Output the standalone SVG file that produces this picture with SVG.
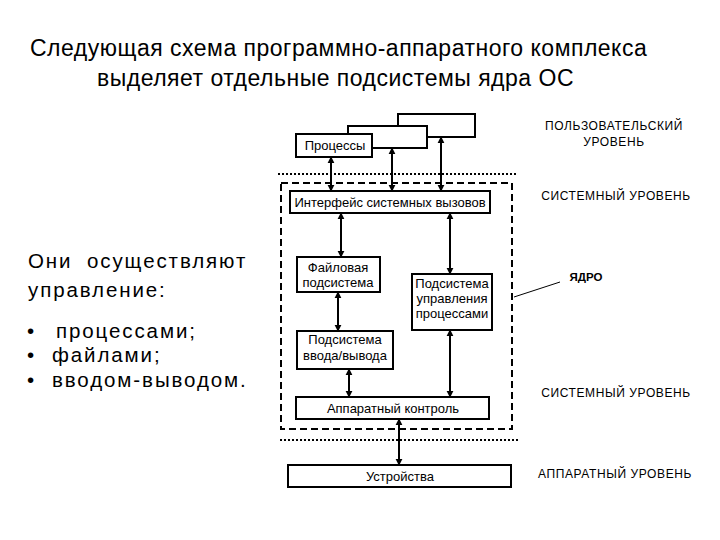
<svg xmlns="http://www.w3.org/2000/svg" width="720" height="540" viewBox="0 0 720 540">
<defs>
<marker id="ah" viewBox="0 0 10 10" refX="9" refY="5" markerWidth="3.5" markerHeight="4" orient="auto-start-reverse" markerUnits="strokeWidth">
<path d="M0,0 L10,5 L0,10 z" fill="#000"/>
</marker>
</defs>
<style>
text{font-family:"Liberation Sans",Arial,sans-serif;fill:#000}
.title{font-size:23px;letter-spacing:0.5px}
.side{font-size:20.5px;letter-spacing:1.9px}
.box{fill:#fff;stroke:#000;stroke-width:2}
.lbl{font-size:13px;text-anchor:middle}
.lvl{font-size:12px;letter-spacing:0.6px;text-anchor:middle}
.con line{stroke:#000;stroke-width:2;marker-start:url(#ah);marker-end:url(#ah)}
.dot{stroke:#000;stroke-width:2;stroke-dasharray:2,2;fill:none}
.dash{stroke:#000;stroke-width:2;stroke-dasharray:7,4;fill:none}
</style>
<rect width="720" height="540" fill="#fff"/>
<g id="title">
<text class="title" x="30" y="56">Следующая схема программно-аппаратного комплекса</text>
<text class="title" x="97" y="86">выделяет отдельные подсистемы ядра ОС</text>
</g>
<g id="side-text">
<text class="side" x="28" y="268">Они <tspan x="87">осуществляют</tspan></text>
<text class="side" x="28" y="297">управление:</text>
<text class="side" x="27" y="338">•<tspan x="56">процессами;</tspan></text>
<text class="side" x="27" y="362">•<tspan x="52">файлами;</tspan></text>
<text class="side" x="27" y="387">•<tspan x="52">вводом-выводом.</tspan></text>
</g>
<g id="layers">
<line class="dot" x1="278" y1="174" x2="518" y2="174"/>
<rect class="dash" x="281" y="183" width="231" height="246"/>
<line class="dot" x1="280" y1="440" x2="518" y2="440"/>
<line x1="514" y1="297" x2="560" y2="282" stroke="#000" stroke-width="1"/>
</g>
<g id="connectors" class="con">
<line x1="331" y1="157" x2="331" y2="191"/>
<line x1="392" y1="148" x2="392" y2="191"/>
<line x1="441" y1="137" x2="441" y2="191"/>
<line x1="341" y1="213" x2="341" y2="257"/>
<line x1="450" y1="213" x2="450" y2="274"/>
<line x1="338" y1="292" x2="338" y2="331"/>
<line x1="349" y1="369" x2="349" y2="397"/>
<line x1="450" y1="330" x2="450" y2="397"/>
<line x1="399" y1="419" x2="399" y2="465"/>
</g>
<g id="proc3"><rect class="box" x="398" y="114" width="77" height="23"/></g>
<g id="proc2"><rect class="box" x="348" y="126" width="79" height="22"/></g>
<g id="proc1"><rect class="box" x="296" y="134" width="76" height="23"/><text class="lbl" x="335" y="150">Процессы</text></g>
<g id="syscall"><rect class="box" x="290" y="191" width="200" height="22"/><text class="lbl" x="390" y="207">Интерфейс системных вызовов</text></g>
<g id="fs"><rect class="box" x="297" y="257" width="83" height="35"/><text class="lbl" x="338" y="272" font-size="12.5">Файловая</text><text class="lbl" x="338" y="287" font-size="12.5">подсистема</text></g>
<g id="procmgmt"><rect class="box" x="412" y="274" width="80" height="56"/><text class="lbl" x="452" y="288">Подсистема</text><text class="lbl" x="452" y="303">управления</text><text class="lbl" x="452" y="318">процессами</text></g>
<g id="io"><rect class="box" x="297" y="331" width="96" height="38"/><text class="lbl" x="345" y="344">Подсистема</text><text class="lbl" x="345" y="360">ввода/вывода</text></g>
<g id="hw"><rect class="box" x="296" y="397" width="193" height="22"/><text class="lbl" x="393" y="413">Аппаратный контроль</text></g>
<g id="dev"><rect class="box" x="288" y="465" width="223" height="22"/><text class="lbl" x="400" y="481">Устройства</text></g>
<g id="levels">
<text class="lvl" x="614" y="130">ПОЛЬЗОВАТЕЛЬСКИЙ</text>
<text class="lvl" x="614" y="146">УРОВЕНЬ</text>
<text class="lvl" x="616" y="200">СИСТЕМНЫЙ УРОВЕНЬ</text>
<text x="586" y="281" font-size="11.5" font-weight="bold" text-anchor="middle">ЯДРО</text>
<text class="lvl" x="616" y="397">СИСТЕМНЫЙ УРОВЕНЬ</text>
<text class="lvl" x="615" y="478">АППАРАТНЫЙ УРОВЕНЬ</text>
</g>
</svg>
